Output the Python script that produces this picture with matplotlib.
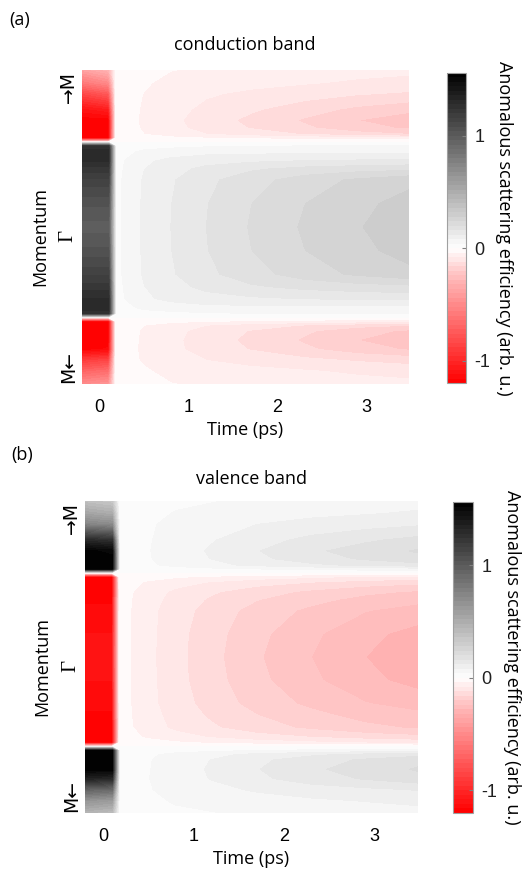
import numpy as np
import matplotlib
matplotlib.use("Agg")
import matplotlib.pyplot as plt
from matplotlib.colors import LinearSegmentedColormap, Normalize

plt.rcParams['axes.unicode_minus'] = False

# ---------------- data ----------------
# time axis (ps)
times = [-0.22, 0.1, 0.18, 0.3, 0.5, 0.8, 1.2, 1.7, 2.3, 2.9, 3.5]
# momentum path coordinate: -1 = M (bottom), 0 = Gamma, +1 = M (top)
momentum = [-1.0, -0.92, -0.85, -0.78, -0.72, -0.66, -0.625, -0.6, -0.575,
            -0.55, -0.515, -0.455, -0.38, -0.3, -0.15, 0.0, 0.15, 0.3, 0.37,
            0.42, 0.48, 0.515, 0.54, 0.565, 0.59, 0.63, 0.68, 0.75, 0.85, 0.92, 1.0]

# anomalous scattering efficiency, one row per time, one value per momentum point
conduction = [
    [-0.5, -0.7, -0.9, -1.19, -1.19, -1.19, -1.19, -1.19, 0,
     1.25, 1.3, 1.28, 1.22, 1.15, 1.05, 0.98, 1.05, 1.15, 1.22, 1.28, 1.3, 1.25, 0,
     -1.19, -1.19, -1.19, -1.19, -1.1, -0.85, -0.6, -0.4],
    [-0.45, -0.65, -0.85, -1.15, -1.19, -1.19, -1.19, -1.19, 0,
     1.25, 1.3, 1.28, 1.22, 1.15, 1.05, 0.98, 1.05, 1.15, 1.22, 1.28, 1.3, 1.25, 0,
     -1.19, -1.19, -1.19, -1.19, -1.05, -0.75, -0.5, -0.3],
    [-0.012, -0.015, -0.019, -0.021, -0.02, -0.02, -0.018, -0.01, 0,
     0.01, 0.02, 0.025, 0.026, 0.028, 0.03, 0.03, 0.03, 0.028, 0.026, 0.025, 0.02, 0.01, 0,
     -0.01, -0.018, -0.02, -0.02, -0.02, -0.018, -0.015, -0.012],
    [-0.021, -0.026, -0.03, -0.03, -0.03, -0.029, -0.027, -0.015, 0,
     0.015, 0.03, 0.043, 0.046, 0.049, 0.05, 0.05, 0.05, 0.049, 0.046, 0.043, 0.03, 0.015, 0,
     -0.015, -0.027, -0.029, -0.03, -0.029, -0.029, -0.026, -0.021],
    [-0.029, -0.036, -0.044, -0.046, -0.045, -0.044, -0.04, -0.02, 0,
     0.024, 0.048, 0.072, 0.079, 0.085, 0.087, 0.088, 0.087, 0.085, 0.079, 0.072, 0.048, 0.024, 0,
     -0.02, -0.04, -0.044, -0.045, -0.044, -0.041, -0.036, -0.029],
    [-0.039, -0.049, -0.064, -0.07, -0.07, -0.067, -0.06, -0.029, 0,
     0.03, 0.058, 0.092, 0.106, 0.115, 0.119, 0.12, 0.119, 0.115, 0.106, 0.092, 0.058, 0.03, 0,
     -0.029, -0.06, -0.067, -0.07, -0.066, -0.06, -0.049, -0.039],
    [-0.045, -0.06, -0.08, -0.096, -0.1, -0.095, -0.08, -0.038, 0,
     0.036, 0.066, 0.106, 0.13, 0.15, 0.158, 0.16, 0.158, 0.15, 0.13, 0.106, 0.066, 0.036, 0,
     -0.038, -0.08, -0.095, -0.1, -0.09, -0.075, -0.06, -0.045],
    [-0.052, -0.068, -0.094, -0.122, -0.13, -0.122, -0.1, -0.046, 0,
     0.04, 0.068, 0.114, 0.154, 0.183, 0.199, 0.203, 0.199, 0.183, 0.154, 0.114, 0.068, 0.04, 0,
     -0.046, -0.1, -0.122, -0.13, -0.114, -0.088, -0.068, -0.052],
    [-0.058, -0.076, -0.109, -0.152, -0.165, -0.153, -0.122, -0.054, 0,
     0.042, 0.068, 0.122, 0.172, 0.22, 0.239, 0.245, 0.239, 0.22, 0.172, 0.122, 0.068, 0.042, 0,
     -0.054, -0.122, -0.153, -0.165, -0.142, -0.102, -0.076, -0.058],
    [-0.066, -0.086, -0.124, -0.182, -0.2, -0.184, -0.144, -0.064, 0,
     0.042, 0.066, 0.127, 0.183, 0.247, 0.269, 0.277, 0.269, 0.247, 0.183, 0.127, 0.066, 0.042, 0,
     -0.064, -0.144, -0.184, -0.2, -0.17, -0.116, -0.086, -0.066],
    [-0.07, -0.095, -0.135, -0.205, -0.225, -0.207, -0.16, -0.07, 0,
     0.042, 0.064, 0.131, 0.19, 0.27, 0.296, 0.305, 0.296, 0.27, 0.19, 0.131, 0.064, 0.042, 0,
     -0.07, -0.16, -0.207, -0.225, -0.191, -0.126, -0.095, -0.07],
]

valence = [
    [0.45, 0.65, 0.95, 1.35, 1.54, 1.54, 1.54, 1.54, 0,
     -1.19, -1.19, -1.19, -1.17, -1.15, -1.12, -1.1, -1.12, -1.15, -1.17, -1.19, -1.19, -1.19, 0,
     1.54, 1.54, 1.54, 1.54, 1.3, 0.75, 0.55, 0.38],
    [0.4, 0.6, 0.9, 1.3, 1.54, 1.54, 1.54, 1.54, 0,
     -1.19, -1.19, -1.19, -1.17, -1.15, -1.12, -1.1, -1.12, -1.15, -1.17, -1.19, -1.19, -1.19, 0,
     1.54, 1.54, 1.54, 1.5, 1.25, 0.7, 0.5, 0.33],
    [0.008, 0.009, 0.011, 0.013, 0.012, 0.012, 0.01, 0.006, 0,
     -0.01, -0.015, -0.018, -0.019, -0.02, -0.02, -0.02, -0.02, -0.02, -0.019, -0.018, -0.015, -0.01, 0,
     0.006, 0.01, 0.012, 0.012, 0.012, 0.01, 0.009, 0.008],
    [0.014, 0.018, 0.02, 0.021, 0.02, 0.02, 0.018, 0.01, 0,
     -0.014, -0.028, -0.036, -0.038, -0.039, -0.04, -0.04, -0.04, -0.039, -0.038, -0.036, -0.028, -0.014, 0,
     0.01, 0.018, 0.02, 0.02, 0.02, 0.019, 0.017, 0.014],
    [0.025, 0.031, 0.037, 0.039, 0.038, 0.037, 0.033, 0.017, 0,
     -0.023, -0.046, -0.061, -0.064, -0.068, -0.069, -0.07, -0.069, -0.068, -0.064, -0.061, -0.046, -0.023, 0,
     0.017, 0.033, 0.037, 0.038, 0.037, 0.035, 0.03, 0.025],
    [0.033, 0.044, 0.054, 0.06, 0.06, 0.058, 0.051, 0.025, 0,
     -0.034, -0.064, -0.088, -0.095, -0.102, -0.106, -0.107, -0.106, -0.102, -0.095, -0.088, -0.064, -0.034, 0,
     0.025, 0.051, 0.058, 0.06, 0.056, 0.051, 0.042, 0.033],
    [0.038, 0.054, 0.068, 0.082, 0.085, 0.081, 0.068, 0.032, 0,
     -0.046, -0.083, -0.114, -0.126, -0.136, -0.145, -0.148, -0.145, -0.136, -0.126, -0.114, -0.083, -0.046, 0,
     0.032, 0.068, 0.081, 0.085, 0.077, 0.064, 0.051, 0.038],
    [0.047, 0.064, 0.085, 0.111, 0.118, 0.111, 0.091, 0.041, 0,
     -0.059, -0.103, -0.142, -0.158, -0.176, -0.189, -0.195, -0.189, -0.176, -0.158, -0.142, -0.103, -0.059, 0,
     0.041, 0.091, 0.111, 0.118, 0.104, 0.08, 0.061, 0.047],
    [0.053, 0.074, 0.1, 0.14, 0.152, 0.141, 0.112, 0.05, 0,
     -0.072, -0.12, -0.168, -0.187, -0.209, -0.232, -0.24, -0.232, -0.209, -0.187, -0.168, -0.12, -0.072, 0,
     0.05, 0.112, 0.141, 0.152, 0.131, 0.094, 0.07, 0.053],
    [0.059, 0.082, 0.111, 0.164, 0.18, 0.166, 0.13, 0.058, 0,
     -0.084, -0.137, -0.19, -0.213, -0.238, -0.269, -0.28, -0.269, -0.238, -0.213, -0.19, -0.137, -0.084, 0,
     0.058, 0.13, 0.166, 0.18, 0.153, 0.104, 0.077, 0.059],
    [0.064, 0.092, 0.123, 0.186, 0.205, 0.189, 0.146, 0.064, 0,
     -0.093, -0.149, -0.205, -0.229, -0.257, -0.296, -0.31, -0.296, -0.257, -0.229, -0.205, -0.149, -0.093, 0,
     0.064, 0.146, 0.189, 0.205, 0.174, 0.115, 0.086, 0.064],
]

x_ticks = [0, 1, 2, 3]
x_tick_labels = ['0', '1', '2', '3']
k_ticks = [-0.89, -0.06, 0.89]
k_tick_labels = ['M\u2190', '\u0393', '\u2192M']
cbar_ticks = [-1, 0, 1]
cbar_tick_labels = ['-1', '0', '1']
panel_titles = ['conduction band', 'valence band']
panel_letters = ['(a)', '(b)']
panel_data = [conduction, valence]

# ---------------- style ----------------
vmin, vmax = -1.2, 1.56
levels = np.arange(-30, 40) * 0.04
span = vmax - vmin
cmap = LinearSegmentedColormap.from_list(
    'redwhiteblack',
    [(0.0, (1, 0, 0)),
     ((-0.3 - vmin) / span, (1, 0.7, 0.7)),
     (-vmin / span, (1, 1, 1)),
     (1.0, (0, 0, 0))], N=256)
norm = Normalize(vmin=vmin, vmax=vmax)

TXT = 'Open Sans'
NUM = 'Liberation Sans'

W, H = 524, 872
fig = plt.figure(figsize=(W / 100, H / 100), dpi=100)

def rect(l, t, r, b):
    return [l / W, 1 - b / H, (r - l) / W, (b - t) / H]

ax_rects = [rect(82, 70, 409, 384), rect(85, 501, 418, 813)]
cb_rects = [rect(447, 73, 466, 383), rect(453, 502, 473, 813)]
cb_label_x = [3.45, 2.95]
title_pos = [(245, 45), (251, 479)]
letter_pos = [(20, 20), (22, 455)]

T = np.array(times)
K = np.array(momentum)

for i in range(2):
    ax = fig.add_axes(ax_rects[i])
    Z = np.array(panel_data[i]).T
    cf = ax.contourf(T, K, Z, levels=levels, cmap=cmap, norm=norm)
    ax.set_xlim(-0.2, 3.48)
    ax.set_ylim(-1, 1)
    for s in ax.spines.values():
        s.set_visible(False)
    ax.set_xticks(x_ticks)
    ax.set_xticklabels(x_tick_labels, fontfamily=NUM, fontsize=13)
    ax.tick_params(axis='x', length=0, pad=11)
    ax.set_yticks(k_ticks)
    ax.set_yticklabels(k_tick_labels, rotation=90, va='center', fontsize=13.5)
    for lab in ax.get_yticklabels():
        if lab.get_text() == '\u0393':
            lab.set_fontfamily('Liberation Serif')
            lab.set_fontsize(15)
        else:
            lab.set_fontfamily('DejaVu Sans')
    ax.tick_params(axis='y', length=0, pad=3)
    ax.set_xlabel('Time (ps)', fontfamily=TXT, fontsize=13)
    ax.xaxis.set_label_coords(0.5, -0.147)
    ax.xaxis.label.set_va('center')
    ax.set_ylabel('Momentum', fontfamily=TXT, fontsize=13)
    ax.yaxis.set_label_coords(-0.128, 0.47)
    ax.yaxis.label.set_va('center')

    fig.text(title_pos[i][0] / W, 1 - title_pos[i][1] / H, panel_titles[i],
             ha='center', va='center', fontfamily=TXT, fontsize=13)
    fig.text(letter_pos[i][0] / W, 1 - letter_pos[i][1] / H, panel_letters[i],
             ha='center', va='center', fontfamily=TXT, fontsize=13)

    cax = fig.add_axes(cb_rects[i])
    cb = fig.colorbar(cf, cax=cax)
    cb.set_ticks(cbar_ticks)
    cb.set_ticklabels(cbar_tick_labels)
    cb.outline.set_edgecolor('#a0a0a0')
    cb.outline.set_linewidth(0.8)
    cax.tick_params(axis='y', direction='in', length=3, width=0.8, color='#808080',
                    pad=6, labelsize=13)
    for lab in cax.get_yticklabels():
        lab.set_fontfamily(NUM)
        lab.set_color('#202020')
    cb.set_label('Anomalous scattering efficiency (arb. u.)', rotation=-90,
                 fontfamily=TXT, fontsize=13)
    cax.yaxis.set_label_coords(cb_label_x[i], 0.5)
    cax.yaxis.label.set_va('center')

fig.savefig('out.png', dpi=100)
